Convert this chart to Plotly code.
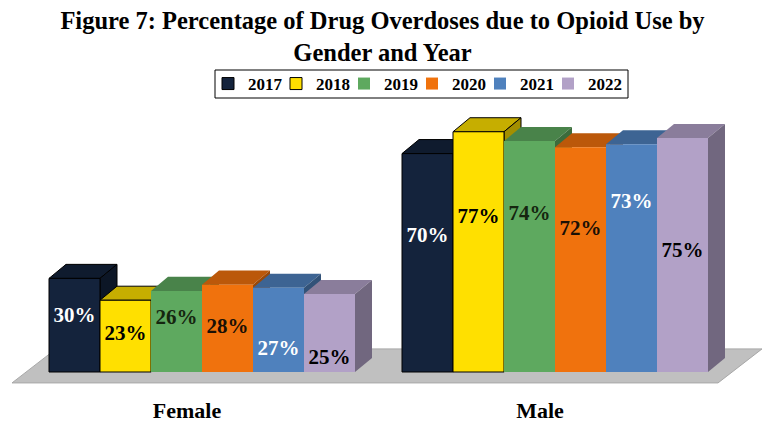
import plotly.graph_objects as go

# ---------------- data ----------------
categories = ["Female", "Male"]
years = ["2017", "2018", "2019", "2020", "2021", "2022"]
v2017 = [30, 70]
v2018 = [23, 77]
v2019 = [26, 74]
v2020 = [28, 72]
v2021 = [27, 73]
v2022 = [25, 75]
series_values = [v2017, v2018, v2019, v2020, v2021, v2022]

# ---------------- style / layout ----------------
front_colors = ["#14233C", "#FFE000", "#5EA95F", "#F0720D", "#4F81BD", "#B2A1C7"]
label_colors = ["#FFFFFF", "#000000", "#15260F", "#1A1005", "#FFFFFF", "#000000"]
outline = ["#000000", "#000000", None, None, None, None]
# vertical position (in % units) of each value label, per year: [Female, Male]
label_y = [[17.7, 43.4], [11.9, 49.3], [17.2, 50.3], [14.3, 45.5], [7.05, 54.1], [4.4, 38.6]]

FONT = "Liberation Serif"
W, H = 765, 422
MARGIN_B = 27
PLOT_H = H - MARGIN_B
BAR_W = 51            # x units (1 unit = 1 px)
GROUP_LEFT0 = 49
GROUP_STEP = 353
DX, DY = 17, 4.5      # depth offset (x units, % units)
Y_RANGE = [-7.37, 119.23]


def shade(hex_color, f):
    h = hex_color.lstrip("#")
    r, g, b = (int(h[i:i + 2], 16) for i in (0, 2, 4))
    return "#%02X%02X%02X" % (int(r * f), int(g * f), int(b * f))


n_series = len(years)
group_left = [GROUP_LEFT0 + i * GROUP_STEP for i in range(len(categories))]

fig = go.Figure()
shapes = []

# floor
floor_l = group_left[0] - 37
floor_r = group_left[-1] + n_series * BAR_W + 10
shapes.append(dict(
    type="path", xref="x", yref="y", layer="below",
    path=f"M{floor_l},-3.5 L{floor_r},-3.5 L{floor_r + 44},7.4 L{floor_l + 44},7.4 Z",
    fillcolor="#C0C0C0", line=dict(color="#A8A8A8", width=1)))

for gi in range(len(categories)):
    for si in range(n_series):
        v = series_values[si][gi]
        xl = group_left[gi] + si * BAR_W
        xr = xl + BAR_W
        lc = outline[si] or "rgba(0,0,0,0)"
        lw = 1 if outline[si] else 0
        # top face
        shapes.append(dict(
            type="path", xref="x", yref="y", layer="below",
            path=f"M{xl},{v} L{xl + DX},{v + DY} L{xr + DX},{v + DY} L{xr},{v} Z",
            fillcolor=shade(front_colors[si], 0.78), line=dict(color=lc, width=lw)))
        # side face
        shapes.append(dict(
            type="path", xref="x", yref="y", layer="below",
            path=f"M{xr},0 L{xr + DX},{DY} L{xr + DX},{v + DY} L{xr},{v} Z",
            fillcolor=shade(front_colors[si], 0.64), line=dict(color=lc, width=lw)))

# legend frame (reference legend box is tighter than plotly's own border)
shapes.append(dict(
    type="rect", xref="paper", yref="paper", layer="above",
    x0=215 / W, x1=628 / W, y0=1 - 98 / PLOT_H, y1=1 - 70 / PLOT_H,
    fillcolor="white", line=dict(color="black", width=1)))

for si in range(n_series):
    xs = [group_left[gi] + si * BAR_W + BAR_W / 2 for gi in range(len(categories))]
    fig.add_trace(go.Bar(
        x=xs, y=series_values[si], width=BAR_W, name=years[si],
        legendwidth=36 if si == n_series - 1 else 23,
        marker=dict(color=front_colors[si],
                    line=dict(color=outline[si] or front_colors[si],
                              width=1 if outline[si] else 0)),
        hoverinfo="skip"))

for si in range(n_series):
    xs = [group_left[gi] + si * BAR_W + BAR_W / 2 for gi in range(len(categories))]
    fig.add_trace(go.Scatter(
        x=xs, y=label_y[si], mode="text",
        text=[f"{v}%" for v in series_values[si]],
        textfont=dict(family=FONT, size=21, color=label_colors[si], weight="bold"),
        showlegend=False, hoverinfo="skip"))

tick_x = [g + n_series * BAR_W / 2 - 15 for g in group_left]

fig.update_layout(
    width=W, height=H,
    margin=dict(l=0, r=0, t=0, b=MARGIN_B),
    paper_bgcolor="white", plot_bgcolor="white",
    barmode="overlay",
    shapes=shapes,
    title=dict(
        text="Figure 7: Percentage of Drug Overdoses due to Opioid Use by<br>Gender and Year",
        font=dict(family=FONT, size=24.5, color="black", weight="bold"),
        x=0.5, xanchor="center", xref="container",
        y=1 - 29 / H, yanchor="top", yref="container"),
    legend=dict(
        orientation="h", x=208 / W, xanchor="left", y=1 - 84 / PLOT_H, yanchor="middle",
        borderwidth=0, bgcolor="rgba(0,0,0,0)",
        font=dict(family=FONT, size=17, color="black", weight="bold")),
    xaxis=dict(range=[0, W], showgrid=False, zeroline=False, showline=False,
               tickmode="array", tickvals=tick_x, ticktext=categories, ticks="",
               tickfont=dict(family=FONT, size=22, color="black", weight="bold"),
               fixedrange=True),
    yaxis=dict(range=Y_RANGE, visible=False, fixedrange=True),
)

fig.write_html("out.html", config={"displayModeBar": False},
               post_script="document.body.style.margin='0px';")
